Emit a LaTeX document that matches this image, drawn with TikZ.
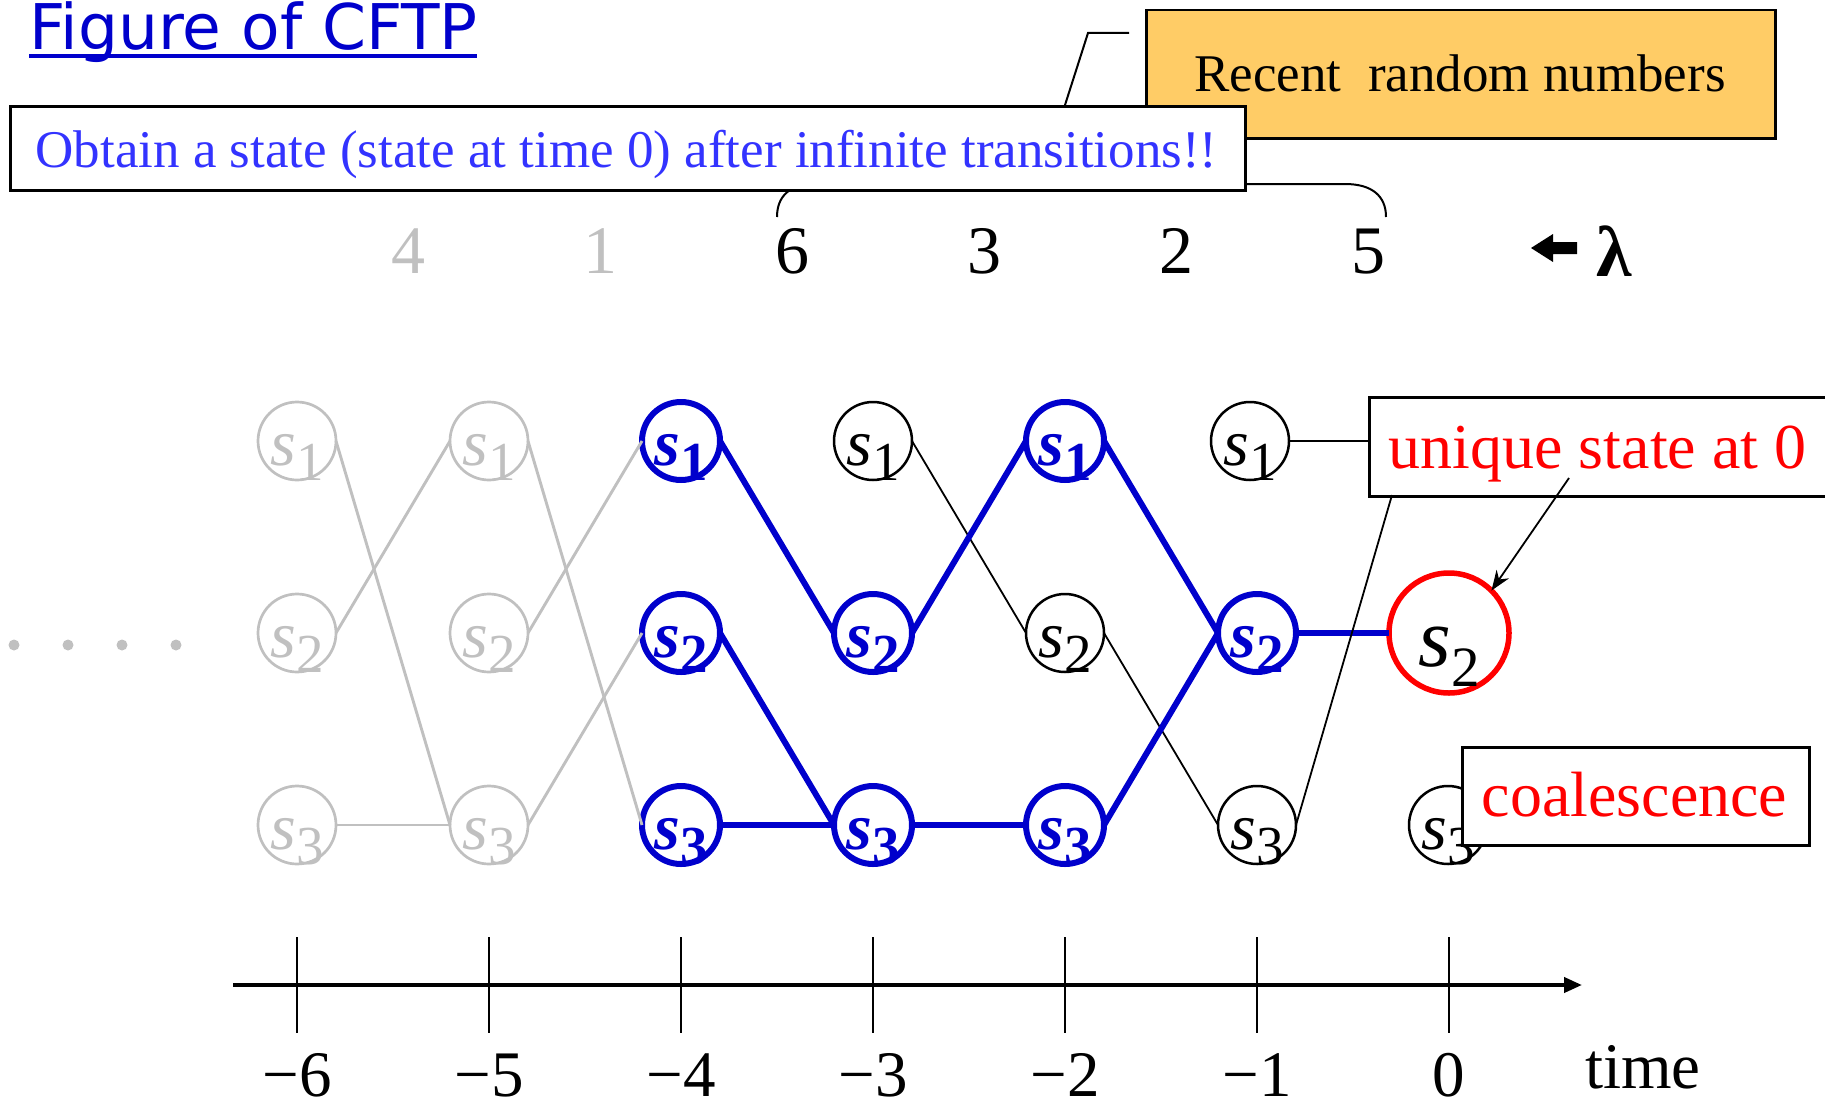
\documentclass[tikz,border=0pt]{standalone}
\usepackage{fontspec}
\setmainfont{Liberation Serif}
\newfontfamily\titlefont{DejaVu Sans}
\usetikzlibrary{arrows.meta}
\definecolor{gr}{HTML}{C0C0C0}
\definecolor{bl}{HTML}{0000CC}
\definecolor{tb}{HTML}{3333FF}
\definecolor{org}{HTML}{FFCC66}
\newcommand{\slab}[1]{{\fontsize{66}{66}\selectfont\itshape s}\raisebox{-15pt}{\fontsize{55}{55}\selectfont #1}}
\newcommand{\sblab}[1]{{\fontsize{66}{66}\selectfont\bfseries\itshape s}\raisebox{-15pt}{\fontsize{55}{55}\selectfont\bfseries #1}}
\newcommand{\srlab}[1]{{\fontsize{84}{84}\selectfont\itshape s}\raisebox{-20pt}{\fontsize{57}{57}\selectfont #1}}
\begin{document}
\begin{tikzpicture}[x=1pt,y=-1pt,
  st/.style={circle, minimum size=78pt, inner sep=0pt, outer sep=0pt},
  lb/.style={yshift=-16.5pt, inner sep=0pt},
  gnode/.style={st, draw=gr, line width=2.7pt, label={[lb,text=gr]center:{\slab{#1}}}},
  bnode/.style={st, draw=bl, line width=6pt, label={[lb,text=bl]center:{\sblab{#1}}}},
  knode/.style={st, draw=black, line width=2.5pt, label={[lb,text=black]center:{\slab{#1}}}},
  rnode/.style={circle, minimum size=120pt, inner sep=0pt, outer sep=0pt, draw=red, line width=5.5pt, label={[yshift=-23.5pt,inner sep=0pt]center:{\srlab{#1}}}},
  gl/.style={draw=gr, line width=2.9pt},
  bll/.style={draw=bl, line width=6pt},
  kl/.style={draw=black, line width=1.8pt},
  box/.style={draw=black, line width=3pt, fill=white},
  txt/.style={inner sep=0pt, anchor=base},
  num/.style={txt, font=\fontsize{68}{68}\selectfont},
  tlab/.style={txt, font=\fontsize{65}{65}\selectfont},
]
\useasboundingbox (0,0) rectangle (1825,1108);
\clip (0,0) rectangle (1825,1108);

% title
\node[txt, anchor=base west, text=bl, font=\titlefont\fontsize{63}{63}\selectfont] (title) at (29,50) {Figure of CFTP};
\draw[bl, line width=3.5pt] (29,56) -- (477,56);

% orange box and its pointer
\node[draw=black, line width=2.5pt, fill=org, minimum width=629pt, minimum height=128pt, inner sep=0pt, anchor=north west] (recent) at (1145,9) {};
\node[txt, font=\fontsize{53}{53}\selectfont] (recenttxt) at (1460,92) {Recent\ \ random numbers};
\coordinate (callA) at (1129,33);
\coordinate (callB) at (1088,33);

% brace over the recent numbers
\draw[line width=2pt] (777,217) .. controls (777,196) and (790,184) .. (815,184) -- (1345,184) .. controls (1372,184) and (1386,196) .. (1386,217);

% blue goal box
\node[box, minimum width=1235pt, minimum height=84pt, inner sep=0pt, anchor=north west] (goal) at (9,105) {};
\node[txt, text=tb, font=\fontsize{53}{53}\selectfont] (goaltxt) at (626.5,167) {Obtain a state (state at time 0) after infinite transitions!!};
\draw[line width=2pt] (callA) -- (callB) -- (goal.north -| 1065,0);

% random numbers row
\node[num, text=gr] (r1) at (408,273) {4};
\node[num, text=gr] (r2) at (600,273) {1};
\node[num] (r3) at (792,273) {6};
\node[num] (r4) at (984,273) {3};
\node[num] (r5) at (1176,273) {2};
\node[num] (r6) at (1368,273) {5};
\fill (1531,248) -- (1553,234) -- (1553,242) -- (1577,242) -- (1577,254) -- (1553,254) -- (1553,262) -- cycle;
\node[txt, font=\fontsize{72}{72}\selectfont\bfseries] (lam) at (1614,276) {λ};

% dots
\foreach \x/\n in {14/a,68/b,122/c,176/d} \fill[gr] (\x,645) circle (5.5pt);

% states
\node[gnode=1] (c01) at (297,441) {};
\node[gnode=2] (c02) at (297,633) {};
\node[gnode=3] (c03) at (297,825) {};
\node[gnode=1] (c11) at (489,441) {};
\node[gnode=2] (c12) at (489,633) {};
\node[gnode=3] (c13) at (489,825) {};
\node[bnode=1] (c21) at (681,441) {};
\node[bnode=2] (c22) at (681,633) {};
\node[bnode=3] (c23) at (681,825) {};
\node[knode=1] (c31) at (873,441) {};
\node[bnode=2] (c32) at (873,633) {};
\node[bnode=3] (c33) at (873,825) {};
\node[bnode=1] (c41) at (1065,441) {};
\node[knode=2] (c42) at (1065,633) {};
\node[bnode=3] (c43) at (1065,825) {};
\node[knode=1] (c51) at (1250,441) {};
\node[bnode=2] (c52) at (1257,633) {};
\node[knode=3] (c53) at (1257,825) {};
\node[rnode=2] (c62) at (1449,633) {};
\node[knode=3] (c63) at (1448,825) {};

% transitions
\draw[gl] (c01.east) -- (c13.west);
\draw[gl] (c02.east) -- (c11.west);
\draw[gl] (c03.east) -- (c13.west);
\draw[gl] (c11.east) -- (c23.west);
\draw[gl] (c12.east) -- (c21.west);
\draw[gl] (c13.east) -- (c22.west);
\draw[bll] (c21.east) -- (c32.west);
\draw[bll] (c22.east) -- (c33.west);
\draw[bll] (c23.east) -- (c33.west);
\draw[kl] (c31.east) -- (c42.west);
\draw[bll] (c32.east) -- (c41.west);
\draw[bll] (c33.east) -- (c43.west);
\draw[bll] (c41.east) -- (c52.west);
\draw[kl] (c42.east) -- (c53.west);
\draw[bll] (c43.east) -- (c52.west);
\draw[bll] (c52.east) -- (c62.west);

% unique state box
\node[box, minimum width=480pt, minimum height=99pt, inner sep=0pt, anchor=north west] (uq) at (1368,396) {};
\node[txt, text=red, font=\fontsize{64}{64}\selectfont] (uqtxt) at (1597.5,468) {unique state at 0};
\coordinate (uqfoot) at (1392,495);
\draw[kl] (c51.east) -- (c51.east -| uq.west);
\draw[kl] (c53.east) -- (uqfoot);
\coordinate (arrstart) at (1569,478);
\draw[kl, -{Stealth[length=20pt,width=15pt]}] (arrstart) -- (c62.north east);

% coalescence box
\node[box, minimum width=347pt, minimum height=98pt, inner sep=0pt, anchor=north west] (co) at (1461,746) {};
\node[txt, text=red, font=\fontsize{64}{64}\selectfont] (cotxt) at (1634.5,816) {coalescence};

% time axis
\draw[line width=4pt, -{Triangle[length=18pt,width=15pt]}] (233,985) -- (1582,985);
\foreach \x/\t [count=\i] in {297/{−6},489/{−5},681/{−4},873/{−3},1065/{−2},1257/{−1},1449/{0}} {
  \draw[line width=2.5pt] (\x,937) -- (\x,1033);
  \node[tlab] (t\i) at (\x,1096) {\t};
}
\node[tlab] (timelab) at (1643,1088) {time};
\end{tikzpicture}
\end{document}
